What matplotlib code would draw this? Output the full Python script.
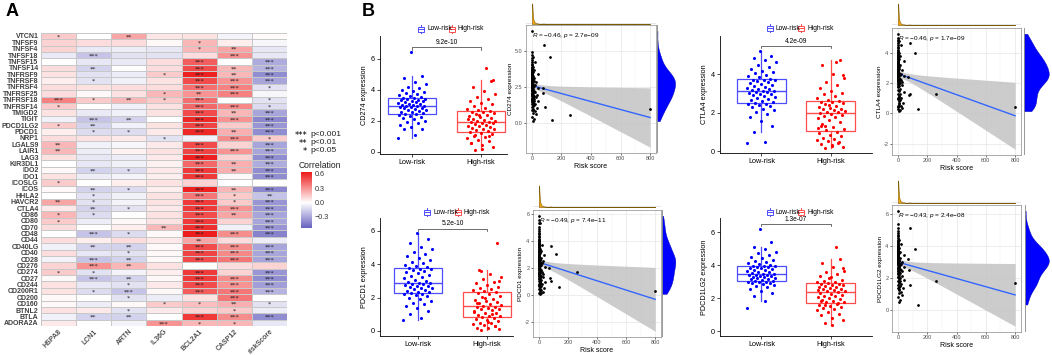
import numpy as np
import matplotlib
matplotlib.use("Agg")
import matplotlib.pyplot as plt
from matplotlib.colors import LinearSegmentedColormap, Normalize
from matplotlib.cm import ScalarMappable
from matplotlib.patches import Rectangle

plt.rcParams['font.family'] = ['Liberation Sans', 'DejaVu Sans']
plt.rcParams['mathtext.fontset'] = 'custom'
plt.rcParams['mathtext.rm'] = 'Liberation Sans'
plt.rcParams['mathtext.it'] = 'Liberation Sans:italic'

# ---------------- Panel A data ----------------
genes = ["VTCN1", "TNFSF9", "TNFSF4", "TNFSF18", "TNFSF15", "TNFSF14", "TNFRSF9", "TNFRSF8",
         "TNFRSF4", "TNFRSF25", "TNFRSF18", "TNFRSF14", "TMIGD2", "TIGIT", "PDCD1LG2", "PDCD1",
         "NRP1", "LGALS9", "LAIR1", "LAG3", "KIR3DL1", "IDO2", "IDO1", "ICOSLG", "ICOS", "HHLA2",
         "HAVCR2", "CTLA4", "CD86", "CD80", "CD70", "CD48", "CD44", "CD40LG", "CD40", "CD28",
         "CD276", "CD274", "CD27", "CD244", "CD200R1", "CD200", "CD160", "BTNL2", "BTLA", "ADORA2A"]
features = ["HSPA8", "LCN1", "ARTN", "IL36G", "BCL2A1", "CASP12", "riskScore"]

hspa8 = [0.15, 0.12, 0.12, -0.07, 0.0, 0.1, 0.08, 0.05, 0.1, 0.1,
         0.35, 0.15, 0.08, -0.05, 0.15, 0.05, 0.1, 0.2, 0.2, 0.08,
         0.0, 0.02, 0.08, 0.15, 0.02, 0.0, 0.25, 0.06, 0.2, 0.15,
         0.1, 0.0, 0.1, -0.05, 0.1, -0.04, 0.12, 0.15, 0.02, 0.08,
         0.08, 0.02, 0.02, 0.08, -0.05, 0.06]
lcn1 = [0.0, 0.1, -0.07, -0.2, -0.08, -0.15, -0.1, -0.1, 0.08, 0.02,
        0.15, 0.0, -0.07, -0.2, -0.15, -0.12, 0.08, -0.05, -0.06, -0.08,
        -0.08, -0.15, -0.06, 0.0, -0.15, -0.1, -0.1, -0.15, -0.12, -0.06,
        0.0, -0.2, 0.05, -0.15, -0.08, -0.2, 0.3, -0.1, -0.2, -0.08,
        -0.12, 0.0, -0.06, 0.06, -0.15, 0.0]
artn = [0.25, 0.1, -0.06, -0.1, -0.07, 0.0, -0.06, -0.05, 0.1, 0.08,
        0.2, -0.05, -0.05, -0.15, -0.05, -0.12, 0.06, -0.03, 0.04, -0.06,
        -0.05, -0.12, -0.04, 0.05, -0.12, -0.05, -0.04, -0.1, 0.0, 0.02,
        0.05, -0.12, 0.1, -0.15, -0.1, -0.15, 0.2, -0.04, -0.15, -0.1,
        -0.2, -0.1, 0.02, -0.1, -0.15, -0.04]
il36g = [0.07, 0.02, -0.08, -0.1, 0.1, 0.1, 0.15, 0.08, 0.1, 0.2,
         0.15, 0.08, 0.08, 0.0, 0.08, 0.06, -0.1, 0.06, 0.08, 0.06,
         0.04, 0.06, 0.05, 0.08, 0.05, 0.08, 0.08, 0.06, 0.08, 0.08,
         0.2, 0.02, 0.06, 0.02, 0.02, 0.02, 0.08, 0.05, 0.02, 0.06,
         0.02, -0.06, 0.15, 0.06, 0.0, 0.3]
bcl2a1 = [0.08, 0.2, 0.2, 0.1, 0.45, 0.5, 0.62, 0.5, 0.4, 0.3,
          0.4, 0.42, 0.5, 0.6, 0.52, 0.6, -0.05, 0.5, 0.52, 0.62,
          0.42, 0.55, 0.55, 0.12, 0.62, 0.38, 0.55, 0.55, 0.5, 0.55,
          0.58, 0.63, 0.25, 0.5, 0.52, 0.5, 0.0, 0.55, 0.55, 0.5,
          0.45, 0.08, 0.18, 0.12, 0.55, 0.2]
casp12 = [-0.04, 0.05, 0.25, 0.3, 0.0, 0.2, 0.2, 0.3, 0.35, 0.35,
          0.0, 0.33, 0.2, 0.3, 0.15, 0.22, 0.32, 0.12, 0.3, 0.12,
          0.22, 0.22, 0.02, 0.0, 0.2, 0.15, 0.15, 0.3, 0.25, 0.12,
          -0.05, 0.32, 0.1, 0.32, 0.33, 0.38, 0.1, 0.12, 0.32, 0.3,
          0.38, 0.38, 0.22, 0.15, 0.32, 0.2]
riskscore_cor = [0.01, -0.03, -0.08, -0.08, -0.28, -0.25, -0.38, -0.3, -0.1, -0.03,
                 -0.1, -0.12, -0.3, -0.4, -0.35, -0.38, 0.15, -0.3, -0.3, -0.38,
                 -0.28, -0.38, -0.38, 0.0, -0.4, -0.2, -0.35, -0.35, -0.3, -0.3,
                 -0.35, -0.42, -0.06, -0.3, -0.3, -0.3, 0.12, -0.35, -0.38, -0.32,
                 -0.25, 0.0, -0.1, -0.06, -0.38, -0.08]
# number of significance stars per row, one digit per feature column
sig_stars = ["1020000", "0000100", "0000120", "0300030", "0000303", "0200323", "0001323", "0100333",
             "0000331", "0001230", "3121301", "1000331", "0000323", "0320333", "1200303", "0110323",
             "0001031", "2000303", "2000333", "0000303", "0000323", "0210323", "0000303", "1000000",
             "0210323", "0100312", "2100313", "0210333", "1100323", "1000303", "0002303", "0310333",
             "0000200", "0220333", "0010333", "0320333", "0320000", "1100303", "0320333", "0010333",
             "0130333", "0010030", "0001121", "0010010", "0220333", "0003110"]

# ---------------- Panel B data ----------------
risk_low = [0.8, 0.3, 1.5, 0.6, 2.1, 0.9, 0.2, 1.2, 1.8, 0.5,
            0.4, 1.1, 2.4, 0.7, 1.6, 0.1, 1.3, 0.9, 2.0, 0.6,
            1.4, 0.3, 1.7, 1.0, 0.5, 2.2, 0.8, 1.9, 0.2, 1.1,
            0.7, 1.5, 0.4, 2.3, 1.2, 0.6, 1.8, 0.9, 0.3, 1.4,
            2.0, 0.5, 1.0, 1.6, 0.8, 2.5, 0.4, 1.3, 0.7, 1.9,
            0.2, 1.1, 1.7, 0.6, 2.1, 0.9, 1.2, 0.3, 1.5, 1.0]
risk_high = [5.2, 12.4, 3.1, 28.5, 7.8, 18.2, 4.4, 9.6, 35.0, 6.1,
             14.8, 3.6, 22.7, 8.3, 4.9, 11.2, 41.0, 5.7, 16.5, 3.3,
             7.1, 25.9, 10.4, 4.1, 13.6, 6.8, 31.2, 3.8, 9.1, 20.3,
             5.5, 15.7, 2.9, 8.7, 44.0, 6.4, 12.0, 4.7, 19.1, 7.4,
             3.4, 26.8, 10.9, 5.9, 17.3, 4.2, 38.5, 8.0, 13.1, 6.6,
             23.8, 9.8, 72, 75, 83, 86, 120, 138, 260, 800]

cd274_low = [0.92, 1.1, 1.45, 1.5, 1.6, 1.75, 1.85, 1.95, 2.0, 2.1, 2.2, 2.25, 2.3, 2.38, 2.42,
             2.45, 2.5, 2.55, 2.6, 2.65, 2.7, 2.72, 2.76, 2.8, 2.84, 2.88, 2.9, 2.93, 2.95, 2.97,
             3.0, 3.03, 3.07, 3.1, 3.14, 3.18, 3.2, 3.25, 3.28, 3.32, 3.35, 3.38, 3.42, 3.45, 3.48,
             3.52, 3.58, 3.65, 3.7, 3.78, 3.85, 3.9, 4.0, 4.1, 4.2, 4.35, 4.5, 4.75, 4.9, 6.4]
cd274_high = [0.13, 0.3, 0.45, 0.6, 0.7, 0.8, 0.9, 0.95, 1.05, 1.15, 1.25,
              1.3, 1.35, 1.4, 1.45, 1.5, 1.55, 1.6, 1.65, 1.7, 1.75, 1.8, 1.84, 1.88, 1.9, 1.93,
              1.96, 2.0, 2.05, 2.15, 2.2, 2.25, 2.3, 2.35, 2.45, 2.5, 2.55, 2.6, 2.64,
              2.7, 2.78, 2.85, 2.95, 3.05, 3.15, 3.25, 3.4, 3.55, 3.7, 3.9, 4.2, 4.58,
              2.4, 2.1, 5.4, 1.1, 4.6, 0.2, 0.55, 1.0]
ctla4_low = [0.42, 0.45, 1.0, 1.3, 1.55, 1.8, 1.95, 2.05, 2.15, 2.22, 2.28, 2.33, 2.38, 2.43, 2.47,
             2.5, 2.56, 2.62, 2.68, 2.73, 2.78, 2.83, 2.88, 2.92, 2.96, 3.0, 3.04, 3.07, 3.1, 3.12,
             3.14, 3.18, 3.22, 3.26, 3.3, 3.35, 3.4, 3.45, 3.5, 3.55, 3.6, 3.64, 3.68, 3.71, 3.73,
             3.78, 3.85, 3.9, 3.98, 4.05, 4.12, 4.2, 4.3, 4.4, 4.5, 4.62, 4.75, 4.85, 4.95, 5.24]
ctla4_high = [0.14, 0.2, 0.3, 0.35, 0.45, 0.5, 0.6, 0.65, 0.7, 0.78, 0.85, 0.92, 1.0,
              1.08, 1.15, 1.25, 1.4, 1.5, 1.6, 1.7, 1.78, 1.85, 1.9, 1.95, 1.98,
              2.02, 2.05, 2.1, 2.15, 2.18, 2.22, 2.26, 2.3, 2.35, 2.45, 2.5, 2.54, 2.57, 2.6,
              2.65, 2.75, 2.85, 2.95, 3.05, 3.15, 3.3, 3.45, 3.6, 3.8, 4.0, 4.5, 4.75,
              2.4, 1.2, 4.65, 1.3, 3.97, 0.26, 1.3, 0.4]
pdcd1_low = [0.66, 0.8, 1.0, 1.2, 1.35, 1.5, 1.6, 1.7, 1.8, 1.9, 2.0, 2.08, 2.15, 2.2, 2.24,
             2.28, 2.32, 2.36, 2.4, 2.45, 2.5, 2.55, 2.6, 2.64, 2.68, 2.72, 2.76, 2.8, 2.83, 2.85,
             2.9, 2.95, 3.0, 3.08, 3.15, 3.22, 3.3, 3.38, 3.45, 3.52, 3.58, 3.64, 3.7, 3.74, 3.78,
             3.85, 3.9, 3.98, 4.05, 4.15, 4.25, 4.35, 4.5, 4.6, 4.75, 4.9, 5.05, 5.3, 5.5, 5.85]
pdcd1_high = [0.06, 0.1, 0.15, 0.2, 0.3, 0.35, 0.4, 0.45, 0.5, 0.6, 0.65, 0.72, 0.78,
              0.85, 0.88, 0.92, 0.96, 1.05, 1.1, 1.15, 1.25, 1.3, 1.34, 1.38, 1.42, 1.45,
              1.5, 1.55, 1.6, 1.65, 1.75, 1.8, 1.86, 1.92, 2.05, 2.12, 2.2, 2.27, 2.33,
              2.4, 2.45, 2.5, 2.58, 2.66, 2.75, 2.85, 2.95, 3.1, 3.25, 3.4, 3.65, 5.3,
              2.0, 1.2, 1.0, 3.6, 3.0, 0.55, 1.7, 0.27]
pdcd1lg2_low = [1.4, 1.8, 2.1, 2.3, 2.45, 2.55, 2.65, 2.72, 2.8, 2.86, 2.9, 2.94, 2.97, 2.99, 3.0,
                3.03, 3.06, 3.1, 3.13, 3.16, 3.2, 3.23, 3.26, 3.3, 3.33, 3.36, 3.38, 3.4, 3.42, 3.44,
                3.48, 3.52, 3.55, 3.6, 3.64, 3.68, 3.72, 3.76, 3.8, 3.84, 3.87, 3.9, 3.92, 3.94, 3.95,
                4.0, 4.05, 4.1, 4.18, 4.25, 4.32, 4.4, 4.5, 4.6, 4.7, 4.82, 4.95, 5.1, 5.4, 6.2]
pdcd1lg2_high = [0.5, 0.65, 0.8, 0.95, 1.05, 1.15, 1.25, 1.32, 1.4, 1.47, 1.53, 1.58, 1.65,
                 1.73, 1.77, 1.85, 1.9, 1.95, 2.0, 2.05, 2.1, 2.15, 2.2, 2.26, 2.32, 2.37,
                 2.42, 2.45, 2.48, 2.53, 2.57, 2.6, 2.64, 2.68, 2.72, 2.76, 2.8, 2.84, 2.88, 2.92,
                 2.96, 3.0, 3.05, 3.12, 3.28, 3.35, 3.45, 3.55, 3.65, 3.9, 4.1, 4.35,
                 3.2, 2.5, 5.1, 1.6, 3.8, 0.36, 1.8, 1.7]

box_pvalues = ["9.2e-10", "4.2e-09", "5.2e-10", "1.3e-07"]
cor_labels = ["\u22120.46, $p$ = 2.7e\u221209", "\u22120.46, $p$ = 1.7e\u221209",
              "\u22120.49, $p$ = 7.4e\u221211", "\u22120.43, $p$ = 2.4e\u221208"]
group_names = ["Low-risk", "High-risk"]

# ---------------- figure helpers ----------------
W, H = 1052, 355
fig = plt.figure(figsize=(W / 100, H / 100), dpi=100)


def ax_px(x0, y0, x1, y1):
    return fig.add_axes([x0 / W, 1 - y1 / H, (x1 - x0) / W, (y1 - y0) / H])


# ---------------- Panel A: heatmap ----------------
vmin, vmax = -0.53, 0.64
zero_pos = -vmin / (vmax - vmin)
cmap = LinearSegmentedColormap.from_list(
    "corr", [(0.0, (0.40, 0.38, 0.75)), (zero_pos, (1, 1, 1)), (1.0, (0.93, 0.10, 0.10))])
norm = Normalize(vmin=vmin, vmax=vmax)

corr = np.column_stack([hspa8, lcn1, artn, il36g, bcl2a1, casp12, riskscore_cor])
axh = ax_px(40.7, 32.8, 287.3, 326)
axh.pcolormesh(np.arange(len(features) + 1), np.arange(len(genes) + 1), corr, cmap=cmap,
               norm=norm, edgecolors='#c8c8c8', linewidth=0.6)
axh.set_xlim(0, len(features))
axh.set_ylim(len(genes), 0)
for i, code in enumerate(sig_stars):
    for j, ch in enumerate(code):
        n = int(ch)
        if n:
            axh.text(j + 0.5, i + 0.62, '*' * n, ha='center', va='center', fontsize=4.6,
                     color='#1a1a1a', family='DejaVu Sans')
axh.set_yticks(np.arange(len(genes)) + 0.5)
axh.set_yticklabels(genes, fontsize=5.0, fontweight='bold', color='#404040')
axh.set_xticks(np.arange(len(features)) + 0.5)
axh.set_xticklabels(features, fontsize=5.0, fontweight='bold', color='#505050', rotation=45,
                    ha='right', rotation_mode='anchor')
axh.tick_params(length=0, pad=1.5)
for s in axh.spines.values():
    s.set_visible(False)

axc = ax_px(301, 172, 312, 228)
cb = fig.colorbar(ScalarMappable(norm=norm, cmap=cmap), cax=axc)
cb.set_ticks([-0.3, 0.0, 0.3, 0.6])
cb.set_ticklabels(["\u22120.3", "0.0", "0.3", "0.6"])
cb.outline.set_visible(False)
axc.tick_params(length=0, pad=2, labelsize=5.2, labelcolor='#333333')

# ---------------- Panel B ----------------
panels = [
    dict(name="CD274", low=cd274_low, high=cd274_high,
         box=(380, 36, 507, 154), bxlim=(0.536, 2.377), bylim=(-0.13, 7.45), byt=[0, 2, 4, 6],
         leg=(418, 29), sc=(526, 25, 656, 153), top=(526, 3, 656, 24), right=(657, 25, 676, 153),
         syt=[0, 2.5, 5.0], sfmt='%.1f'),
    dict(name="CTLA4", low=ctla4_low, high=ctla4_high,
         box=(720, 36, 872, 153), bxlim=(0.4, 2.6), bylim=(-0.10, 6.0), byt=[0, 2, 4],
         leg=(767, 28), sc=(892, 28, 1021, 155), top=(892, 3, 1021, 25), right=(1024, 28, 1050, 155),
         syt=[-2, 0, 2, 4], sfmt='%d'),
    dict(name="PDCD1", low=pdcd1_low, high=pdcd1_high,
         box=(380, 218, 513, 336), bxlim=(0.45, 2.377), bylim=(-0.3, 6.77), byt=[0, 2, 4, 6],
         leg=(424, 212), sc=(533, 210, 661, 337), top=(533, 185, 661, 207), right=(662, 210, 676, 337),
         syt=[-2, 0, 2, 4, 6], sfmt='%d'),
    dict(name="PDCD1LG2", low=pdcd1lg2_low, high=pdcd1lg2_high,
         box=(720, 218, 872, 336), bxlim=(0.4, 2.6), bylim=(-0.3, 6.85), byt=[0, 2, 4, 6],
         leg=(767, 212), sc=(892, 205, 1021, 332), top=(892, 180, 1021, 203), right=(1025, 205, 1050, 332),
         syt=[0, 2, 4, 6], sfmt='%d'),
]

cols = ['#0000ff', '#ff0000']
edge_cols = ['#4d4dff', '#ff4d4d']


def kde(vals, grid):
    v = np.asarray(vals, float)
    n = v.size
    sd = v.std(ddof=1)
    q75, q25 = np.percentile(v, [75, 25])
    bw = 0.9 * min(sd, (q75 - q25) / 1.34) * n ** -0.2
    z = (grid[:, None] - v[None, :]) / bw
    return np.exp(-0.5 * z * z).sum(1) / (n * bw * np.sqrt(2 * np.pi))


rl = np.array(risk_low, float)
rh = np.array(risk_high, float)

for k, P in enumerate(panels):
    low = np.array(P['low'], float)
    high = np.array(P['high'], float)
    # ---- box plot ----
    ax = ax_px(*P['box'])
    bp = ax.boxplot([low, high], positions=[1, 2], widths=0.7, showfliers=False, showcaps=False,
                    patch_artist=True, whis=1.5, zorder=2)
    for g in range(2):
        bp['boxes'][g].set_facecolor('white')
        bp['boxes'][g].set_edgecolor(edge_cols[g])
        bp['boxes'][g].set_linewidth(0.9)
        bp['medians'][g].set_color(edge_cols[g])
        bp['medians'][g].set_linewidth(1.0)
        for w in bp['whiskers'][2 * g:2 * g + 2]:
            w.set_color(edge_cols[g])
            w.set_linewidth(0.9)
    for g, vals in enumerate([low, high]):
        jit = ((np.arange(vals.size) * 0.618034 + 0.31 * g) % 1.0 - 0.5) * 0.42
        ax.scatter(g + 1 + jit, vals, s=5, color=cols[g], linewidths=0, zorder=3)
    ax.set_xlim(*P['bxlim'])
    ax.set_ylim(*P['bylim'])
    ax.set_xticks([1, 2])
    ax.set_xticklabels(group_names, fontsize=5.6)
    ax.set_yticks(P['byt'])
    ax.tick_params(labelsize=5.2, length=2, width=0.5, pad=1.5)
    for sname in ['top', 'right']:
        ax.spines[sname].set_visible(False)
    for sname in ['left', 'bottom']:
        ax.spines[sname].set_linewidth(0.6)
    ax.set_ylabel(P['name'] + " expression", fontsize=5.2, labelpad=2)
    allv = np.concatenate([low, high])
    rng = allv.max() - allv.min()
    yb = allv.max() + 0.05 * rng
    ax.plot([1, 1, 2, 2], [yb - 0.025 * rng, yb, yb, yb - 0.025 * rng], color='#333333', lw=0.5)
    ax.text(1.5, yb + 0.012 * rng, box_pvalues[k], ha='center', va='bottom', fontsize=4.8)

    # ---- scatter with regression ----
    x = np.concatenate([rl, rh])
    y = allv
    axs = ax_px(*P['sc'])
    n = x.size
    b, a = np.polyfit(x, y, 1)
    resid = y - (a + b * x)
    s_err = np.sqrt((resid ** 2).sum() / (n - 2))
    sxx = ((x - x.mean()) ** 2).sum()
    xs = np.linspace(x.min(), x.max(), 80)
    pred = a + b * xs
    se = s_err * np.sqrt(1.0 / n + (xs - x.mean()) ** 2 / sxx)
    lo_b, hi_b = pred - 1.976 * se, pred + 1.976 * se
    axs.fill_between(xs, lo_b, hi_b, color='#c3c3c3', alpha=0.85, lw=0, zorder=1)
    axs.plot(xs, pred, color='#3366ff', lw=1.0, zorder=2)
    axs.scatter(x, y, s=4, color='black', linewidths=0, zorder=3)
    ylo = min(y.min(), lo_b.min())
    yhi = max(y.max(), hi_b.max())
    pad = 0.05 * (yhi - ylo)
    ylim = (ylo - pad, yhi + pad)
    xlim = (-40, 840)
    axs.set_xlim(*xlim)
    axs.set_ylim(*ylim)
    axs.set_xticks([0, 200, 400, 600, 800])
    axs.set_xticks([100, 300, 500, 700], minor=True)
    axs.set_yticks(P['syt'])
    axs.yaxis.set_major_formatter(matplotlib.ticker.FormatStrFormatter(P['sfmt']))
    axs.grid(True, which='major', color='#e6e6e6', lw=0.5, zorder=0)
    axs.grid(True, which='minor', color='#f0f0f0', lw=0.35, zorder=0)
    axs.set_axisbelow(True)
    axs.tick_params(which='both', labelsize=4.0, labelcolor='#4d4d4d', length=1.5, width=0.4, pad=1)
    axs.tick_params(which='minor', length=0)
    for sp in axs.spines.values():
        sp.set_color('#8c8c8c')
        sp.set_linewidth(0.5)
    axs.set_xlabel("Risk score", fontsize=5.0, labelpad=1)
    axs.set_ylabel(P['name'] + " expression", fontsize=4.6, labelpad=1.5)
    axs.text(x.min(), y.max(), "$R$ = " + cor_labels[k], ha='left', va='top', fontsize=4.6, zorder=4)

    # ---- marginal densities ----
    axt = ax_px(*P['top'])
    gx = np.linspace(x.min(), x.max(), 600)
    dx = kde(x, gx)
    axt.fill_between(gx, 0, dx, color='#ffa500', lw=0.4, edgecolor='#7a5a00')
    axt.axhline(0, color='#888888', lw=1.0)
    axt.set_xlim(*xlim)
    axt.set_ylim(0, dx.max() * 1.02)
    axt.axis('off')

    axr = ax_px(*P['right'])
    gy = np.linspace(y.min(), y.max(), 300)
    dy = kde(y, gy)
    axr.fill_betweenx(gy, 0, dy, color='#0000ff', lw=0.3, edgecolor='#0000aa')
    axr.axvline(0, color='#888888', lw=1.2)
    axr.set_ylim(*ylim)
    axr.set_xlim(0, dy.max() * 1.05)
    axr.axis('off')

# ---------------- overlay: labels and legends ----------------
ov = fig.add_axes([0, 0, 1, 1])
ov.set_xlim(0, W)
ov.set_ylim(H, 0)
ov.axis('off')
ov.patch.set_alpha(0)

ov.text(6, 12, "A", fontsize=13, fontweight='bold', ha='left', va='center')
ov.text(362, 12, "B", fontsize=13, fontweight='bold', ha='left', va='center')

for yy, st, lab in [(134, "***", "p<0.001"), (142, "**", "p<0.01"), (150, "*", "p<0.05")]:
    ov.text(307, yy + 1.5, st, ha='right', va='center', fontsize=6.0, family='DejaVu Sans')
    ov.text(310, yy, lab, ha='left', va='center', fontsize=6.0, color='#222222')
ov.text(299, 165, "Correlation", ha='left', va='center', fontsize=6.2, color='#222222')

for P in panels:
    lx, ly = P['leg']
    xx = lx
    for g in range(2):
        ov.add_patch(Rectangle((xx, ly - 2.5), 6, 5, fill=False, edgecolor=edge_cols[g], lw=0.7))
        ov.plot([xx, xx + 6], [ly, ly], color=edge_cols[g], lw=0.7)
        ov.plot([xx + 3, xx + 3], [ly - 4, ly - 2.5], color=edge_cols[g], lw=0.7)
        ov.plot([xx + 3, xx + 3], [ly + 2.5, ly + 4], color=edge_cols[g], lw=0.7)
        ov.text(xx + 9, ly, group_names[g], ha='left', va='center', fontsize=4.8)
        xx += 31

fig.savefig("out.png", dpi=100)
